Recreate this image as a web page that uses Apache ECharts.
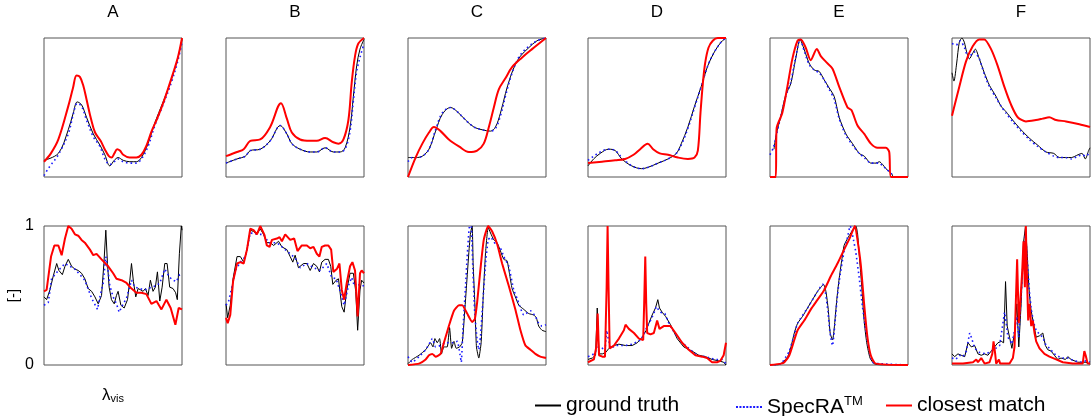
<!DOCTYPE html>
<html>
<head>
    <meta charset="UTF-8">
    <script src="https://cdn.jsdelivr.net/npm/echarts@6/dist/echarts.min.js"></script>
    <style>
        html, body { margin: 0; padding: 0; background: #fff; }
        #container { width: 1092px; height: 416px; }
    </style>
</head>
<body>
<div id="container"></div>

<script type="text/javascript">
    // panel letters
    var columns = ['A', 'B', 'C', 'D', 'E', 'F'];

    // --- row 1: [x in % of range, value 0..1]
    var topA_truth = [[0,0.12],[10.4,0.17],[17.6,0.34],[21.2,0.46],[24.1,0.54],[27.2,0.52],[30.8,0.43],[35.7,0.31],[40.5,0.23],[44.1,0.16],[47.7,0.08],[50.9,0.12],[53.7,0.14],[57.4,0.12],[62.2,0.11],[67,0.11],[70.6,0.14],[75.4,0.24],[80.3,0.39],[86.3,0.54],[92.3,0.70],[97.1,0.86],[100,0.99]];
    var topA_spec = [[0,0.01],[3,0.06],[6,0.10],[10.4,0.16],[17.6,0.31],[21.2,0.45],[24.1,0.53],[27.2,0.51],[30.8,0.41],[35.7,0.29],[40.5,0.22],[44.1,0.13],[47.7,0.09],[50.9,0.11],[53.7,0.13],[57.4,0.11],[62.2,0.10],[67,0.10],[70.6,0.13],[75.4,0.22],[80.3,0.37],[86.3,0.52],[92.3,0.68],[97.1,0.84],[100,0.97]];
    var topA_match = [[0,0.11],[5,0.17],[10.4,0.27],[17.6,0.51],[21,0.64],[23.6,0.73],[26,0.72],[28.4,0.66],[31,0.55],[34,0.42],[37,0.32],[41,0.26],[44,0.20],[47,0.15],[49,0.14],[51,0.17],[53,0.20],[55,0.19],[57.4,0.16],[62,0.14],[67,0.14],[70.6,0.16],[74,0.22],[78,0.33],[82,0.42],[87,0.55],[92,0.70],[97,0.86],[100,1.0]];

    var topB_truth = [[0,0.10],[8,0.13],[14,0.15],[17.6,0.19],[24.8,0.20],[32,0.26],[39.3,0.37],[44.1,0.31],[47.7,0.24],[53.7,0.20],[61,0.18],[65.8,0.18],[71.8,0.21],[77.8,0.18],[82.7,0.18],[86.3,0.21],[89.9,0.36],[92.3,0.58],[94.7,0.80],[97.1,0.92],[100,0.99]];
    var topB_spec = [[0,0.10],[8,0.13],[14,0.15],[17.6,0.19],[24.8,0.20],[32,0.26],[39.3,0.37],[44.1,0.31],[47.7,0.24],[53.7,0.20],[61,0.18],[65.8,0.18],[71.8,0.21],[77.8,0.18],[82.7,0.18],[86.3,0.20],[89.9,0.33],[92.3,0.55],[94.7,0.76],[97.1,0.86],[100,0.96]];
    var topB_match = [[0,0.15],[8,0.18],[12.8,0.20],[17.6,0.26],[24.8,0.27],[32,0.36],[39.8,0.53],[44.1,0.42],[47.7,0.32],[53.7,0.27],[61,0.26],[65.8,0.26],[71.8,0.28],[77.8,0.25],[81.5,0.24],[85.1,0.27],[88.7,0.41],[91.1,0.68],[93.5,0.87],[95.9,0.96],[100,1.0]];

    var topC_truth = [[0,0.14],[5.5,0.14],[10.4,0.15],[15.2,0.20],[20,0.33],[24.8,0.45],[30.8,0.50],[35.7,0.47],[41.7,0.41],[47.7,0.36],[53.7,0.34],[59.8,0.33],[63.4,0.36],[67,0.46],[70.6,0.60],[74.2,0.72],[77.8,0.81],[81.5,0.87],[87.5,0.93],[93.5,0.98],[100,1.0]];
    var topC_spec = [[0,0.11],[3,0.14],[5.5,0.14],[10.4,0.15],[15.2,0.20],[20,0.34],[24.8,0.46],[30.8,0.50],[35.7,0.47],[41.7,0.41],[47.7,0.36],[53.7,0.34],[59.8,0.33],[63.4,0.35],[67,0.44],[70.6,0.58],[74.2,0.71],[77.8,0.81],[81.5,0.88],[87.5,0.94],[93.5,0.98],[100,1.0]];
    var topC_match = [[0,0.0],[5.5,0.14],[10.4,0.24],[15.2,0.32],[18.8,0.36],[23.6,0.33],[29.6,0.27],[36.9,0.22],[44.1,0.18],[50.1,0.19],[54.9,0.24],[58.6,0.36],[62.2,0.50],[65.8,0.63],[70.6,0.71],[75.4,0.79],[82.7,0.86],[89.9,0.92],[100,1.0]];

    var topD_truth = [[0,0.08],[4.1,0.13],[8.9,0.17],[14.9,0.20],[19.7,0.19],[24.5,0.13],[31.7,0.08],[38.8,0.06],[43.6,0.07],[50.8,0.10],[58,0.13],[64,0.17],[67.6,0.24],[72.4,0.36],[77.2,0.51],[82,0.65],[86.8,0.80],[91.6,0.90],[96.4,0.97],[100,1.0]];
    var topD_spec = [[0,0.12],[4.1,0.15],[8.9,0.18],[14.9,0.20],[19.7,0.19],[24.5,0.14],[31.7,0.08],[38.8,0.06],[43.6,0.07],[50.8,0.10],[58,0.13],[64,0.17],[67.6,0.23],[72.4,0.35],[77.2,0.50],[82,0.65],[86.8,0.80],[91.6,0.90],[96.4,0.97],[100,1.0]];
    var topD_match = [[0,0.10],[10.1,0.11],[19.7,0.12],[26.9,0.13],[33,0.16],[37.8,0.20],[43.2,0.24],[47.2,0.20],[52,0.17],[58,0.16],[65.2,0.14],[72.4,0.13],[77.2,0.14],[79.6,0.19],[81.5,0.46],[83.2,0.67],[84.9,0.82],[87.3,0.93],[90.4,0.98],[94,1.0],[100,1.0]];

    var topE_truth = [[2.9,0.20],[4.6,0.31],[7.7,0.43],[11.4,0.59],[15,0.67],[18.6,0.85],[21.8,0.99],[24.7,0.92],[28.3,0.82],[32,0.77],[35.6,0.76],[39.2,0.70],[42.9,0.64],[46.5,0.58],[50.1,0.43],[55,0.31],[59.8,0.24],[64.6,0.17],[68.3,0.15],[73.1,0.10],[76.8,0.10],[79.2,0.11],[81.6,0.09],[84,0.06],[88.4,0.02],[89,0.0]];
    var topE_spec = [[0,0.16],[2.4,0.21],[4.6,0.30],[7.7,0.43],[11.4,0.58],[15,0.68],[18.6,0.86],[21.8,0.99],[24.7,0.91],[28.3,0.81],[32,0.77],[35.6,0.75],[39.2,0.70],[42.9,0.63],[46.5,0.56],[50.1,0.42],[55,0.30],[59.8,0.23],[64.6,0.17],[68.3,0.14],[73.1,0.10],[76.8,0.10],[79.2,0.10],[81.6,0.08],[84,0.06],[88.4,0.02]];
    var topE_match = [[0,0],[4.1,0],[4.8,0.35],[8.9,0.46],[12.6,0.65],[16.2,0.85],[19.9,0.98],[22.3,0.99],[25.9,0.93],[29.5,0.84],[33.9,0.92],[36.8,0.87],[40.4,0.83],[45.2,0.78],[50.1,0.65],[56.2,0.50],[59.1,0.48],[63.4,0.37],[68.3,0.31],[73.1,0.24],[77.9,0.21],[84,0.21],[86.4,0.18],[87.7,0],[100,0]];

    var topF_truth = [[0,0.75],[1.4,0.69],[3.4,0.82],[5.3,0.97],[7.2,1.0],[8.9,0.97],[10.6,0.90],[12.6,0.85],[15,0.89],[16.9,0.92],[19.8,0.85],[23.4,0.75],[27.1,0.66],[31.9,0.58],[35.5,0.51],[39.1,0.47],[43.9,0.41],[50,0.34],[56,0.28],[62,0.23],[68.1,0.18],[73.7,0.17],[77.8,0.14],[82.1,0.14],[86.5,0.14],[91.3,0.16],[94.2,0.17],[96.6,0.13],[99,0.19],[100,0.21]];
    var topF_spec = [[0,0.96],[3,0.95],[6,0.98],[9,0.93],[12,0.86],[16,0.90],[19.8,0.85],[23.4,0.74],[27.1,0.65],[31.9,0.57],[35.5,0.51],[39.1,0.46],[43.9,0.40],[50,0.33],[56,0.27],[62,0.22],[68.1,0.18],[73.7,0.15],[77.8,0.14],[82.1,0.14],[86.5,0.13],[91.3,0.15],[94.2,0.16],[97,0.15],[100,0.18]];
    var topF_match = [[0,0.44],[5.3,0.65],[10.1,0.83],[15,0.94],[19.8,0.99],[23.4,0.99],[28.3,0.92],[33.1,0.80],[37.9,0.65],[42.8,0.52],[47.6,0.43],[53.6,0.40],[60.9,0.41],[65.7,0.42],[70.5,0.43],[75.4,0.41],[82.6,0.40],[92.3,0.38],[100,0.36]];

    // --- row 2
    var botA_truth = [[0,0.49],[1.9,0.47],[4.3,0.54],[6.7,0.64],[9.2,0.73],[10.8,0.68],[13.3,0.65],[15.2,0.71],[17.6,0.76],[20,0.71],[22.4,0.69],[24.8,0.68],[27.2,0.66],[29.6,0.62],[32,0.55],[34.5,0.53],[36.9,0.49],[39.3,0.44],[41.7,0.50],[43.4,0.73],[44.8,0.97],[46,0.73],[47.2,0.56],[48.9,0.47],[50.9,0.44],[52.5,0.50],[53.7,0.53],[55.7,0.43],[58.1,0.41],[60.5,0.47],[62.2,0.61],[63.4,0.73],[64.8,0.60],[66.5,0.49],[68.2,0.55],[70.1,0.54],[71.8,0.53],[73.5,0.55],[75.4,0.50],[77.1,0.61],[79,0.53],[80.7,0.56],[82.2,0.67],[83.9,0.46],[85.6,0.56],[87.5,0.73],[89.2,0.73],[91.1,0.56],[93.5,0.55],[95.4,0.52],[96.6,0.47],[98.1,0.80],[99.5,1.0],[100,0.97]];
    var botA_spec = [[0,0.43],[3.1,0.45],[5.5,0.62],[10.4,0.68],[15.2,0.73],[18.8,0.71],[22.4,0.69],[29.6,0.61],[34.5,0.48],[38.8,0.40],[40.5,0.49],[42.9,0.59],[44.8,0.78],[46.5,0.67],[47.7,0.57],[50.1,0.49],[52.5,0.44],[54.5,0.38],[57.4,0.44],[59.8,0.48],[63.4,0.61],[65.8,0.56],[69.4,0.55],[73,0.54],[77.8,0.56],[81.5,0.57],[83.9,0.59],[87.5,0.69],[91.1,0.63],[93.5,0.61],[95.9,0.60],[98.3,0.65],[100,0.65]];
    var botA_match = [[0,0.53],[1.9,0.54],[5.1,0.78],[7.5,0.86],[10.4,0.86],[12.8,0.79],[15.2,0.91],[17.6,1.0],[20,0.98],[22.4,0.94],[24.8,0.93],[27.2,0.90],[29.6,0.88],[33.3,0.83],[35.7,0.79],[38.1,0.80],[41.7,0.76],[46.5,0.71],[50.1,0.66],[52.5,0.62],[56.2,0.61],[59.8,0.59],[63.4,0.55],[67,0.52],[70.6,0.52],[74.2,0.51],[77.8,0.44],[81.5,0.46],[85.1,0.40],[88.7,0.47],[91.8,0.41],[95.2,0.29],[97.6,0.41],[100,0.40]];

    var botB_truth = [[0,0.44],[1.2,0.34],[3.1,0.43],[5.1,0.62],[8,0.78],[10.4,0.78],[12.8,0.74],[15.2,0.83],[17.6,0.97],[20,0.96],[22.4,0.94],[24.8,0.98],[27.2,0.94],[29.6,0.88],[32,0.88],[34.5,0.86],[38.1,0.89],[40.5,0.85],[44.1,0.83],[46.5,0.78],[48.4,0.74],[50.1,0.79],[52.5,0.70],[56.2,0.73],[58.6,0.73],[61,0.68],[63.4,0.73],[65.8,0.71],[67.7,0.67],[69.4,0.74],[71.8,0.76],[74.2,0.76],[75.9,0.71],[77.4,0.58],[79.8,0.61],[81.5,0.62],[83.9,0.42],[85.6,0.38],[87.5,0.54],[89.9,0.66],[92.3,0.66],[94,0.53],[95.4,0.25],[97.1,0.54],[98.3,0.61],[100,0.59]];
    var botB_spec = [[0,0.43],[1.9,0.46],[4.3,0.56],[6.7,0.68],[10.4,0.74],[14,0.78],[17.6,0.95],[22.4,0.94],[27.2,0.94],[30.8,0.88],[36.9,0.88],[41.7,0.84],[46.5,0.80],[50.1,0.77],[53.7,0.70],[58.6,0.73],[63.4,0.70],[68.2,0.68],[73,0.73],[76.6,0.63],[79.8,0.62],[82.7,0.53],[85.6,0.43],[88.7,0.57],[91.1,0.63],[93,0.57],[94.7,0.59],[97.1,0.57],[100,0.57]];
    var botB_match = [[0,0.34],[1.2,0.30],[3.1,0.36],[5.1,0.60],[8,0.73],[10.4,0.74],[12.8,0.73],[15.2,0.83],[17.6,0.98],[20,0.97],[22.4,0.94],[24.8,1.0],[27.7,0.94],[29.6,0.86],[31.6,0.85],[33.3,0.90],[36.9,0.91],[38.8,0.92],[40.5,0.89],[42.9,0.94],[46.5,0.90],[49.4,0.91],[51.8,0.82],[54.9,0.86],[58.6,0.86],[61,0.84],[63.4,0.85],[65.8,0.80],[67.7,0.78],[69.4,0.85],[71.8,0.86],[74.2,0.86],[76.2,0.83],[77.8,0.67],[80.3,0.69],[82.2,0.73],[83.9,0.54],[85.6,0.47],[87.5,0.59],[89.9,0.71],[91.6,0.74],[93.5,0.68],[95.4,0.35],[97.1,0.66],[98.3,0.68],[100,0.66]];

    var botC_truth = [[0,0.01],[3.1,0.04],[8,0.07],[12.8,0.11],[16.4,0.16],[18.1,0.13],[19.5,0.19],[21.2,0.16],[22.9,0.19],[24.3,0.08],[26,0.13],[28.4,0.13],[30.1,0.27],[31.6,0.12],[33.3,0.17],[34.9,0.12],[37.4,0.13],[39.3,0.16],[40.5,0.30],[42.4,0.57],[44.1,0.81],[45.3,0.95],[46.5,1.0],[47.2,0.73],[48.4,0.45],[49.6,0.13],[51.3,0.05],[53,0.16],[54.5,0.49],[56.2,0.81],[58.1,0.99],[59.8,0.95],[62.2,0.90],[64.6,0.88],[67,0.82],[69.4,0.76],[71.8,0.75],[73.5,0.66],[75.4,0.55],[77.8,0.49],[80.3,0.43],[83.9,0.40],[87.5,0.37],[91.1,0.36],[93,0.34],[94.7,0.28],[97.1,0.25],[100,0.24]];
    var botC_spec = [[0,0.06],[3.1,0.02],[8,0.06],[12.8,0.11],[16.4,0.17],[17.6,0.19],[20,0.13],[23.6,0.14],[27.2,0.16],[32,0.16],[35.7,0.17],[37.6,0.08],[38.6,0.02],[39.8,0.25],[41.7,0.57],[42.9,0.78],[44.6,1.0],[45.8,1.0],[47,0.69],[48.4,0.37],[50.1,0.18],[51.3,0.11],[52.5,0.20],[54.2,0.45],[56.2,0.73],[58.1,0.90],[59.8,0.92],[63.4,0.87],[67,0.84],[69.4,0.78],[73,0.71],[76.6,0.54],[79,0.48],[83.9,0.36],[88.7,0.39],[92.3,0.35],[94.7,0.30],[97.1,0.28],[100,0.29]];
    var botC_match = [[0,0],[8,0.01],[12.8,0.04],[15.2,0.07],[17.6,0.08],[20,0.06],[23.6,0.08],[26,0.16],[29.6,0.28],[33.3,0.39],[36.9,0.43],[39.3,0.43],[42.9,0.37],[46.5,0.31],[48.4,0.33],[50.1,0.45],[52.5,0.69],[54.9,0.90],[58.1,1.0],[61,0.96],[64.6,0.87],[68.2,0.73],[73,0.57],[77.8,0.40],[81.5,0.25],[85.1,0.14],[88.7,0.11],[92.3,0.08],[95.9,0.06],[100,0.05]];

    var botD_truth = [[0,0.04],[3.1,0.05],[5.5,0.07],[6.7,0.41],[8,0.08],[10.4,0.08],[12.8,0.09],[15.2,0.12],[18.8,0.14],[22.4,0.15],[27.2,0.14],[32,0.14],[35.7,0.16],[39.3,0.20],[42.2,0.25],[44.1,0.30],[46.5,0.36],[48.9,0.41],[50.6,0.47],[51.8,0.41],[53.7,0.38],[56.2,0.35],[59.8,0.29],[64.6,0.19],[69.4,0.13],[75.4,0.10],[80.3,0.07],[85.1,0.06],[89.9,0.04],[94.7,0.03],[98.3,0.02],[100,0.0]];
    var botD_spec = [[0,0.06],[4.3,0.08],[7.5,0.13],[10.4,0.12],[12.3,0.10],[13.5,0.25],[14.5,0.20],[16.4,0.12],[20,0.14],[27.2,0.14],[32,0.15],[38.1,0.18],[40.5,0.22],[42.9,0.28],[45.3,0.32],[47.7,0.37],[49.4,0.42],[52.5,0.38],[55.7,0.37],[59,0.29],[63.4,0.22],[68.2,0.16],[73,0.12],[79,0.07],[85.1,0.06],[92.3,0.04],[97.1,0.04],[100,0.01]];
    var botD_match = [[0,0.02],[4.3,0.04],[6,0.13],[7,0.37],[8,0.07],[10.4,0.06],[12.3,0.06],[13.5,0.56],[14.2,1.0],[14.9,0.56],[15.7,0.12],[18.8,0.14],[22.4,0.19],[26,0.25],[27.2,0.29],[29.6,0.26],[33.3,0.23],[36.9,0.19],[40,0.18],[40.7,0.44],[41.5,0.78],[42.2,0.44],[42.9,0.23],[45.3,0.22],[47.7,0.23],[50.1,0.32],[51.8,0.26],[54.9,0.28],[59.8,0.28],[63.4,0.23],[68.2,0.16],[73,0.11],[77.8,0.07],[82.7,0.06],[86.3,0.05],[89.9,0.02],[93.5,0.02],[95.9,0.03],[98.3,0.07],[100,0.16]];

    var botE_truth = [[0,0],[5.5,0],[9.2,0.02],[12.8,0.06],[15.2,0.13],[17.6,0.23],[20,0.30],[23.6,0.35],[27.2,0.41],[30.8,0.47],[34.5,0.53],[36.9,0.56],[38.8,0.58],[40.5,0.53],[42.2,0.40],[43.6,0.23],[45.3,0.18],[46.5,0.26],[48.4,0.47],[50.1,0.62],[51.8,0.74],[53.7,0.86],[56.2,0.91],[58.6,0.95],[61,0.98],[62.2,1.0],[63.4,0.95],[64.6,0.80],[66.3,0.59],[68.2,0.32],[70.1,0.16],[72.5,0.05],[75.4,0.01],[80.3,0],[100,0]];
    var botE_spec = [[0,0],[3.1,0],[8,0.01],[11.6,0.06],[14,0.10],[17.6,0.22],[20,0.30],[27.2,0.41],[34.5,0.53],[38.1,0.58],[40,0.53],[42,0.38],[43.4,0.24],[45.3,0.14],[46.5,0.24],[48.4,0.45],[50.1,0.60],[53.7,0.82],[56.2,0.92],[58.1,1.0],[60.5,0.90],[62.2,0.81],[64.6,0.63],[67,0.42],[69.4,0.25],[71.8,0.11],[74.2,0.02],[78.9,0.01],[100,0]];
    var botE_match = [[0,0],[8,0.01],[10.4,0.02],[14,0.07],[17.6,0.18],[20,0.25],[24.8,0.32],[29.6,0.40],[34.5,0.47],[39.3,0.54],[44.1,0.64],[48.9,0.73],[53.7,0.83],[58.1,0.92],[61.5,1.0],[63.4,0.90],[65.8,0.72],[68.2,0.44],[70.6,0.20],[73,0.07],[76.6,0.01],[100,0]];

    var botF_truth = [[0,0.08],[1.9,0.06],[4.3,0.08],[6.7,0.07],[9.2,0.06],[11.6,0.16],[14,0.13],[16.4,0.14],[18.8,0.08],[21.2,0.07],[23.6,0.08],[26,0.07],[28.4,0.10],[30.8,0.13],[33.3,0.16],[35.7,0.17],[37.4,0.16],[38.8,0.60],[40,0.28],[41.7,0.20],[43.4,0.12],[45.3,0.23],[47,0.44],[48.4,0.13],[50.1,0.44],[51.8,0.88],[53.3,1.0],[54.5,0.80],[55.7,0.56],[56.9,0.42],[58.1,0.35],[59.3,0.36],[61,0.20],[63.4,0.21],[65.8,0.23],[67.7,0.14],[69.4,0.11],[71.8,0.10],[74.2,0.07],[76.6,0.04],[79,0.05],[82.2,0.04],[83.9,0.06],[86.3,0.04],[91.1,0.02],[95.2,0.02],[97.1,0.02],[99,0.01],[100,0.01]];
    var botF_spec = [[0,0.05],[2.7,0.04],[5.5,0.07],[8,0.06],[10.4,0.10],[12.8,0.23],[14,0.20],[16.4,0.12],[20,0.09],[24.8,0.08],[28.4,0.10],[31.6,0.12],[34.5,0.14],[38.1,0.38],[39.3,0.30],[40.5,0.20],[43.4,0.15],[45.3,0.25],[47,0.35],[48.4,0.20],[50.1,0.50],[51.8,0.80],[53.3,0.95],[54.5,0.76],[56.2,0.52],[57.4,0.40],[59.3,0.30],[61,0.25],[63.4,0.22],[65.8,0.20],[67.7,0.15],[70.6,0.12],[74.2,0.08],[79,0.05],[83.9,0.05],[88.7,0.03],[93.5,0.02],[97.1,0.03],[100,0.02]];
    var botF_match = [[0,0.01],[8,0.01],[15.2,0.02],[17.6,0.04],[18.8,0.02],[21.2,0.05],[23.6,0.01],[27.2,0.02],[29.2,0.08],[30.1,0.17],[31.3,0.08],[32,0.01],[34,0.04],[34.9,0.01],[38.1,0.01],[41.7,0.01],[44.1,0.05],[45.3,0.13],[46,0.37],[47.2,0.76],[48.4,0.30],[49.4,0.44],[50.9,0.68],[51.8,0.89],[52.8,0.56],[53.5,1.0],[54.2,0.68],[55.2,0.32],[56.2,0.44],[57.4,0.28],[58.6,0.32],[59.8,0.23],[61,0.17],[63.4,0.12],[67,0.08],[70.6,0.06],[75.4,0.04],[80.3,0.02],[87.5,0.01],[94.7,0.01],[95.9,0.10],[97.1,0.06],[98.3,0.01],[100,0.01]];

    var panels = [
        [topA_truth, topA_spec, topA_match], [topB_truth, topB_spec, topB_match],
        [topC_truth, topC_spec, topC_match], [topD_truth, topD_spec, topD_match],
        [topE_truth, topE_spec, topE_match], [topF_truth, topF_spec, topF_match],
        [botA_truth, botA_spec, botA_match], [botB_truth, botB_spec, botB_match],
        [botC_truth, botC_spec, botC_match], [botD_truth, botD_spec, botD_match],
        [botE_truth, botE_spec, botE_match], [botF_truth, botF_spec, botF_match]
    ];
    // smoothing per panel (row 2 A,B,D,F are noisy measurements)
    var panelSmooth = [0.35, 0.35, 0.35, 0.35, 0.25, 0.25, 0, 0, 0.15, 0, 0.2, 0];

    var seriesNames = ['ground truth', 'SpecRA', 'closest match'];

    // layout
    var colLeft = [44, 226, 408, 588, 770, 952];
    var rowTop = [38, 226];
    var boxW = 138, boxH = 139;
    var fontName = 'Liberation Sans, Arial, sans-serif';

    // legend icons: solid bar and a row of dots
    var solidIcon = 'path://M0,0H26V2H0Z';
    var dotIcon = 'path://';
    for (var d = 0; d < 8; d++) {
        dotIcon += 'M' + (d * 3.43) + ',0h2v2h-2z';
    }

    var dom = document.getElementById('container');
    var myChart = echarts.init(dom, null, { renderer: 'canvas' });

    var grids = [], xAxes = [], yAxes = [], series = [], titles = [];

    panels.forEach(function (p, i) {
        var row = Math.floor(i / 6), col = i % 6;
        var first = (i === 6);
        var sm = panelSmooth[i];
        grids.push({
            left: colLeft[col], top: rowTop[row], width: boxW, height: boxH,
            show: true, borderColor: '#555', borderWidth: 1, backgroundColor: 'transparent'
        });
        xAxes.push({
            gridIndex: i, type: 'value', min: 0, max: 100,
            axisLine: { show: false }, axisTick: { show: false },
            axisLabel: { show: false }, splitLine: { show: false },
            name: first ? '{l|λ}{s|vis}' : '',
            nameLocation: 'middle', nameGap: 22,
            nameTextStyle: {
                rich: {
                    l: { fontSize: 17, color: '#000', fontFamily: fontName },
                    s: { fontSize: 11, color: '#000', fontFamily: fontName, padding: [6, 0, 0, 0] }
                }
            }
        });
        yAxes.push({
            gridIndex: i, type: 'value', min: 0, max: 1, interval: 1,
            axisLine: { show: false }, axisTick: { show: false },
            splitLine: { show: false },
            axisLabel: { show: first, fontSize: 16, color: '#000', fontFamily: fontName, margin: 10 },
            name: first ? '[-]' : '',
            nameLocation: 'middle', nameRotate: 90, nameGap: 12,
            nameTextStyle: { fontSize: 15, color: '#000', fontFamily: fontName }
        });

        series.push({
            name: seriesNames[0], type: 'line', xAxisIndex: i, yAxisIndex: i,
            data: p[0], symbol: 'none', smooth: sm,
            lineStyle: { color: '#000', width: 1 }, itemStyle: { color: '#000' }, z: 2
        });
        series.push({
            name: seriesNames[1], type: 'line', xAxisIndex: i, yAxisIndex: i,
            data: p[1], symbol: 'none', smooth: sm,
            lineStyle: { color: '#1a1aff', width: 1.6, type: [1.6, 3] }, itemStyle: { color: '#1a1aff' }, z: 3
        });
        series.push({
            name: seriesNames[2], type: 'line', xAxisIndex: i, yAxisIndex: i,
            data: p[2], symbol: 'none', smooth: sm,
            lineStyle: { color: '#ff0000', width: 2 }, itemStyle: { color: '#ff0000' }, z: 4
        });
    });

    columns.forEach(function (c, col) {
        titles.push({
            text: c, left: colLeft[col] + boxW / 2, top: 4, textAlign: 'center', padding: 0,
            textStyle: { fontSize: 17, fontWeight: 'normal', color: '#000', fontFamily: fontName }
        });
    });

    var legendBase = {
        orient: 'horizontal', top: 390, itemWidth: 26, itemHeight: 2, itemGap: 0,
        textStyle: {
            fontSize: 21, color: '#000', fontFamily: fontName,
            rich: {
                tm: { fontSize: 13, color: '#000', fontFamily: fontName, padding: [0, 0, 11, 0] }
            }
        },
        formatter: function (name) {
            return name === 'SpecRA' ? 'SpecRA{tm|TM}' : name;
        }
    };
    var legendLeft = [530, 731, 881];
    var legendIcons = [solidIcon, dotIcon, solidIcon];
    var legends = seriesNames.map(function (n, k) {
        return Object.assign({}, legendBase, {
            left: legendLeft[k],
            data: [{ name: n, icon: legendIcons[k] }]
        });
    });

    var option = {
        backgroundColor: '#fff',
        animation: false,
        title: titles,
        legend: legends,
        grid: grids,
        xAxis: xAxes,
        yAxis: yAxes,
        series: series
    };

    myChart.setOption(option);
    window.addEventListener('resize', myChart.resize);
</script>
</body>
</html>
